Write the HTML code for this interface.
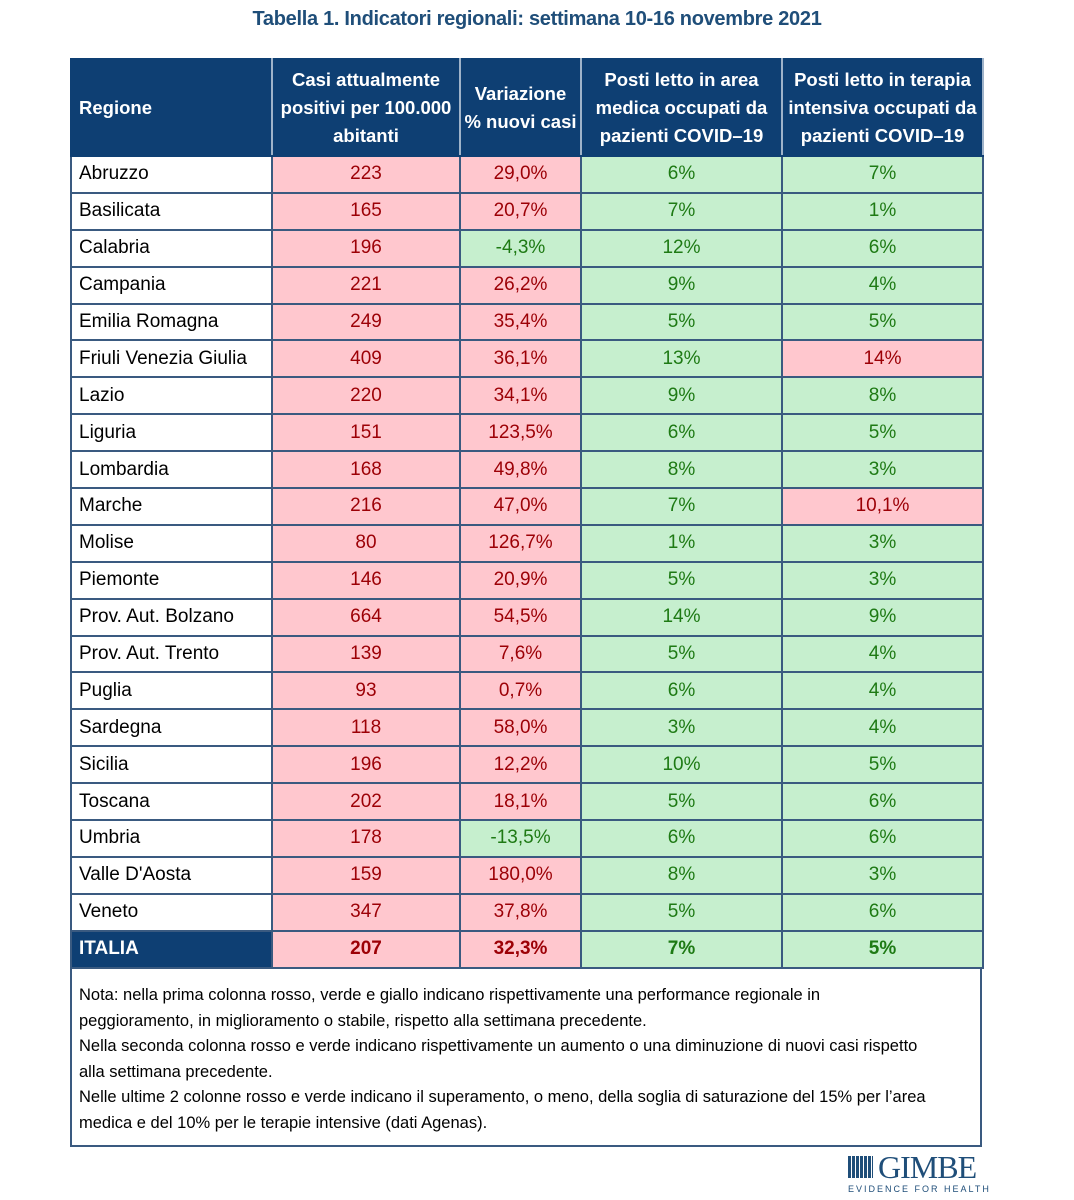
<!DOCTYPE html>
<html><head><meta charset="utf-8"><style>
body{margin:0;background:#fff;width:1074px;height:1200px;position:relative;font-family:"Liberation Sans",sans-serif;overflow:hidden}
.title{position:absolute;left:0;width:1074px;top:8px;text-align:center;color:#1f4e79;font-weight:bold;font-size:20px;letter-spacing:-0.3px}
table{position:absolute;left:70px;top:58px;width:912px;border-collapse:collapse;table-layout:fixed}
td,th{border:2px solid #3a5a80;padding:0;font-size:19px;text-align:center}
th{background:#0e3f73;color:#fff;font-weight:bold;height:95px;line-height:28px;font-size:18.5px;border-color:#0e3f73;border-right-color:#9fb3c9}
th.l{text-align:left;padding-left:7px}
td{height:34.9px}
td.l{text-align:left;padding-left:7px;color:#000}
.r{background:#ffc7ce;color:#9c0006}
.g{background:#c6efce;color:#1e7a14}
tr.it td{font-weight:bold}
tr.it td.l{background:#0e3f73;color:#fff}
.note{position:absolute;left:70px;top:967px;width:912px;height:180px;border:2px solid #3a5a80;border-top:none;font-size:16.5px;line-height:25.6px;padding:16px 0 0 7px;box-sizing:border-box;white-space:nowrap}
.logo{position:absolute;left:848px;top:1154px;color:#1f4e79}
.logo .b{font-family:"Liberation Serif",serif;font-size:32px;position:absolute;left:30px;top:-5px;letter-spacing:-1px}
.logo .s{position:absolute;left:0;top:30px;font-size:9px;letter-spacing:2px;white-space:nowrap}
.grid{position:absolute;left:0;top:2px;width:25px;height:22px;background:repeating-linear-gradient(90deg,#1f4e79 0 3px,#fff 3px 4px),#1f4e79}
</style></head><body>
<div class="title">Tabella 1. Indicatori regionali: settimana 10-16 novembre 2021</div>
<table>
<colgroup><col style="width:201px"><col style="width:188px"><col style="width:121px"><col style="width:201px"><col style="width:201px"></colgroup>
<tr><th class="l">Regione</th><th>Casi attualmente positivi per 100.000 abitanti</th><th>Variazione<br>% nuovi casi</th><th>Posti letto in area medica occupati da pazienti COVID–19</th><th>Posti letto in terapia intensiva occupati da pazienti COVID–19</th></tr>
<tr><td class="l">Abruzzo</td><td class="r">223</td><td class="r">29,0%</td><td class="g">6%</td><td class="g">7%</td></tr>
<tr><td class="l">Basilicata</td><td class="r">165</td><td class="r">20,7%</td><td class="g">7%</td><td class="g">1%</td></tr>
<tr><td class="l">Calabria</td><td class="r">196</td><td class="g">-4,3%</td><td class="g">12%</td><td class="g">6%</td></tr>
<tr><td class="l">Campania</td><td class="r">221</td><td class="r">26,2%</td><td class="g">9%</td><td class="g">4%</td></tr>
<tr><td class="l">Emilia Romagna</td><td class="r">249</td><td class="r">35,4%</td><td class="g">5%</td><td class="g">5%</td></tr>
<tr><td class="l">Friuli Venezia Giulia</td><td class="r">409</td><td class="r">36,1%</td><td class="g">13%</td><td class="r">14%</td></tr>
<tr><td class="l">Lazio</td><td class="r">220</td><td class="r">34,1%</td><td class="g">9%</td><td class="g">8%</td></tr>
<tr><td class="l">Liguria</td><td class="r">151</td><td class="r">123,5%</td><td class="g">6%</td><td class="g">5%</td></tr>
<tr><td class="l">Lombardia</td><td class="r">168</td><td class="r">49,8%</td><td class="g">8%</td><td class="g">3%</td></tr>
<tr><td class="l">Marche</td><td class="r">216</td><td class="r">47,0%</td><td class="g">7%</td><td class="r">10,1%</td></tr>
<tr><td class="l">Molise</td><td class="r">80</td><td class="r">126,7%</td><td class="g">1%</td><td class="g">3%</td></tr>
<tr><td class="l">Piemonte</td><td class="r">146</td><td class="r">20,9%</td><td class="g">5%</td><td class="g">3%</td></tr>
<tr><td class="l">Prov. Aut. Bolzano</td><td class="r">664</td><td class="r">54,5%</td><td class="g">14%</td><td class="g">9%</td></tr>
<tr><td class="l">Prov. Aut. Trento</td><td class="r">139</td><td class="r">7,6%</td><td class="g">5%</td><td class="g">4%</td></tr>
<tr><td class="l">Puglia</td><td class="r">93</td><td class="r">0,7%</td><td class="g">6%</td><td class="g">4%</td></tr>
<tr><td class="l">Sardegna</td><td class="r">118</td><td class="r">58,0%</td><td class="g">3%</td><td class="g">4%</td></tr>
<tr><td class="l">Sicilia</td><td class="r">196</td><td class="r">12,2%</td><td class="g">10%</td><td class="g">5%</td></tr>
<tr><td class="l">Toscana</td><td class="r">202</td><td class="r">18,1%</td><td class="g">5%</td><td class="g">6%</td></tr>
<tr><td class="l">Umbria</td><td class="r">178</td><td class="g">-13,5%</td><td class="g">6%</td><td class="g">6%</td></tr>
<tr><td class="l">Valle D'Aosta</td><td class="r">159</td><td class="r">180,0%</td><td class="g">8%</td><td class="g">3%</td></tr>
<tr><td class="l">Veneto</td><td class="r">347</td><td class="r">37,8%</td><td class="g">5%</td><td class="g">6%</td></tr>
<tr class="it"><td class="l">ITALIA</td><td class="r">207</td><td class="r">32,3%</td><td class="g">7%</td><td class="g">5%</td></tr>
</table>
<div class="note">Nota: nella prima colonna rosso, verde e giallo indicano rispettivamente una performance regionale in<br>peggioramento, in miglioramento o stabile, rispetto alla settimana precedente.<br>Nella seconda colonna rosso e verde indicano rispettivamente un aumento o una diminuzione di nuovi casi rispetto<br>alla settimana precedente.<br>Nelle ultime 2 colonne rosso e verde indicano il superamento, o meno, della soglia di saturazione del 15% per l’area<br>medica e del 10% per le terapie intensive (dati Agenas).</div>
<div class="logo"><div class="grid"></div><div class="b">GIMBE</div><div class="s">EVIDENCE FOR HEALTH</div></div>
</body></html>
